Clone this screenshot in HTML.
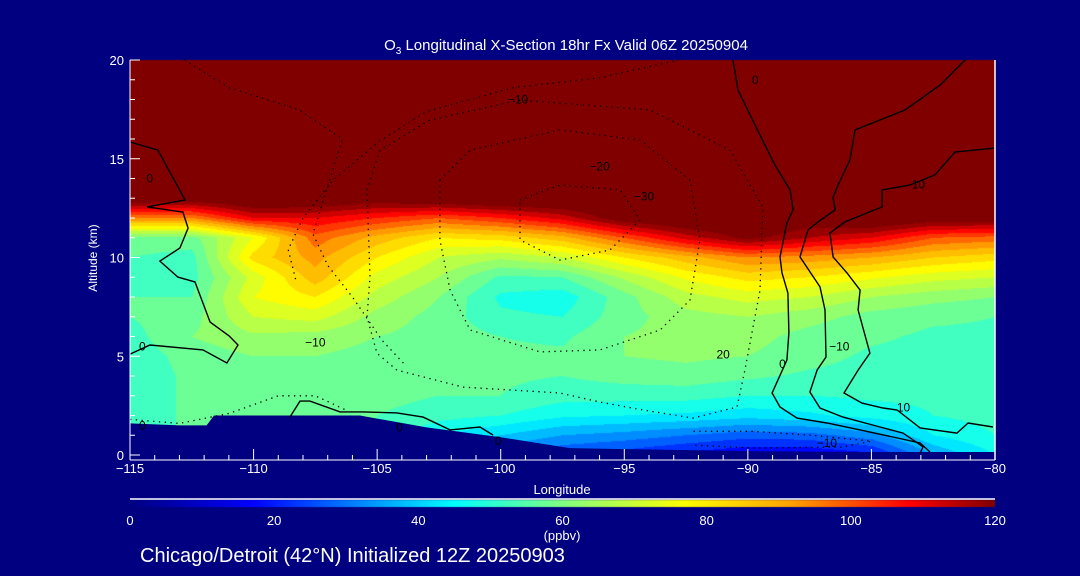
<!DOCTYPE html>
<html><head><meta charset="utf-8"><style>
html,body{margin:0;padding:0;background:#000080;}
#wrap{position:relative;width:1080px;height:576px;overflow:hidden;background:#000080;font-family:"Liberation Sans",sans-serif;color:#fff;}
canvas,svg{position:absolute;left:0;top:0;}
</style></head><body>
<div id="wrap">
<canvas id="cv" width="1080" height="576"></canvas>
<svg id="sv" width="1080" height="576"></svg>
</div>
<script>
// ---- data ----
const lonNodes=[-115,-112.5,-110,-107.5,-105,-102.5,-100,-97.5,-95,-92.5,-90,-87.5,-85,-82.5,-80];
const altNodes=[20,19,18,17,16,15,14,13,12,11,10,9,8,7,6,5,4,3,2,1,0];
const ozone=[
[130,130,130,130,130,130,130,130,130,130,130,130,130,130,130],
[130,130,130,130,130,130,130,130,130,130,130,130,130,130,130],
[130,130,130,130,130,130,130,130,130,130,130,130,130,130,130],
[130,130,130,130,130,130,130,130,130,130,130,130,130,130,130],
[130,130,130,130,130,130,130,130,130,130,130,130,130,130,130],
[130,130,130,130,130,130,130,130,130,130,130,130,130,130,130],
[130,130,130,130,130,130,130,130,130,130,130,130,130,130,130],
[128,125,130,128,125,128,130,130,130,130,130,130,130,130,130],
[95,95,110,110,105,100,105,112,125,130,130,125,130,125,125],
[58,58,75,98,88,80,82,88,100,112,122,115,110,100,98],
[55,53,82,92,80,70,66,70,80,88,95,93,90,85,82],
[55,53,72,88,73,65,54,55,66,76,82,80,76,72,70],
[55,55,75,80,68,60,49,47,58,68,72,70,65,62,60],
[55,58,70,72,63,58,51,50,58,63,65,62,58,56,55],
[53,60,64,63,60,58,55,54,60,62,62,58,56,54,54],
[52,57,60,60,58,57,56,56,60,61,60,57,54,53,54],
[52,56,58,58,57,56,56,55,57,58,56,54,53,53,53],
[52,56,57,57,57,55,55,52,52,52,50,50,51,51,52],
[52,56,56,56,55,52,50,46,45,44,42,44,47,50,52],
[52,56,56,56,55,45,40,35,33,30,27,28,33,45,50],
[52,56,56,56,55,40,30,25,22,18,15,15,18,35,45]];
const terrainLon=[-115,-113,-111.9,-111.6,-106.6,-105.7,-103,-100,-97.2,-95,-90,-85,-80];
const terrainAlt=[1.6,1.5,1.5,2.0,2.0,2.0,1.4,0.9,0.35,0.3,0.2,0.15,0.15];
const xTicks=[-115,-110,-105,-100,-95,-90,-85,-80];
const yTicks=[0,5,10,15,20];
const cbTicks=[0,20,40,60,80,100,120];
const solidLines=[
[[-115,15.85],[-113.87,15.44],[-112.77,12.91],[-114.31,12.56],[-112.86,12.3],[-112.65,11.49],[-112.98,10.48],[-113.79,9.82],[-113.06,9.01],[-112.37,8.76],[-111.76,6.73],[-110.99,6.03],[-110.63,5.57],[-111.08,4.66],[-112.05,5.32],[-114.19,5.57],[-115,5.11]],
[[-90.6,20],[-90.4,18.48],[-89.71,16.71],[-88.9,14.68],[-88.29,13.42],[-88.17,12.41],[-88.42,11.75],[-88.7,10.03],[-88.62,9.22],[-88.38,8.2],[-88.34,6.18],[-88.42,4.81],[-89.02,3.14],[-88.7,2.43],[-88.01,1.87],[-86.8,1.62],[-85.46,1.27],[-84.13,0.91],[-83.03,0.61],[-82.63,0.15]],
[[-81.21,20],[-82.22,18.73],[-83.64,17.47],[-85.66,16.46],[-85.87,14.94],[-86.35,13.67],[-86.55,13.06],[-86.47,12.41],[-87.16,11.8],[-87.57,11.39],[-87.89,10.03],[-87.08,8.51],[-86.88,7.34],[-86.84,4.96],[-87.2,4.3],[-87.49,3.19],[-87.08,2.38],[-86.15,1.92],[-84.65,1.42],[-83.72,1.11],[-82.91,0.41],[-83.03,0.1]],
[[-80,15.54],[-81.62,15.34],[-82.43,14.18],[-83.44,13.67],[-84.57,13.42],[-84.57,12.56],[-86.07,11.8],[-86.68,11.24],[-86.55,10.03],[-85.99,9.22],[-85.46,8.35],[-85.54,7.34],[-85.06,5.16],[-85.54,4.3],[-86.11,3.14],[-85.38,2.63],[-84.53,2.38],[-83.96,2.28],[-83.03,1.37],[-81.54,1.11],[-81.09,1.62],[-80.08,1.42]],
[[-108.53,1.92],[-108.12,2.73],[-107.72,2.73],[-106.5,2.18],[-105.57,2.18],[-104.2,2.13],[-103.14,1.92],[-102.05,1.27],[-100.84,1.42],[-100.31,1.01]]];
const dottedLines=[
[[-105.41,13.42],[-104.88,15.44],[-102.86,16.96],[-99.22,17.97],[-93.96,17.47],[-90.72,15.44],[-89.39,12.56],[-89.51,8.35],[-90.12,4.3],[-90.44,2.43],[-92.22,1.87],[-94.24,2.28],[-95.98,2.68],[-97.6,3.14],[-101.53,3.44],[-104.2,4.3],[-105.01,5.16],[-105.41,6.99],[-105.29,9.01],[-105.41,13.42]],
[[-102.46,13.92],[-101.24,15.44],[-97.6,16.46],[-94.36,15.95],[-92.34,13.92],[-91.94,10.89],[-92.34,7.85],[-93.55,6.33],[-95.98,5.32],[-98.41,5.22],[-101.24,6.33],[-102.05,8.35],[-102.46,10.89],[-102.46,13.92]],
[[-99.22,12.91],[-97.6,13.67],[-95.17,13.42],[-94.36,11.9],[-95.58,10.38],[-97.6,9.87],[-99.22,10.89],[-99.22,12.91]],
[[-108.3,8.9],[-108.6,10.4],[-108.0,12.0],[-106.8,13.9],[-104.9,15.9],[-103.0,17.4],[-99.5,18.6],[-96.0,19.1],[-92.8,20]],
[[-112.8,20],[-111.0,18.6],[-108.2,17.5],[-106.4,16.0],[-106.9,14.0],[-107.6,11.2],[-107.0,9.6],[-106.0,8.0],[-104.8,5.8],[-103.9,4.6]],
[[-92.2,1.2],[-89.8,1.2],[-87.4,1.0],[-85.0,0.7],[-86.2,0.4],[-89.8,0.35],[-92.2,0.5]],
[[-115,1.8],[-113,1.6],[-111,2.1],[-109,3.0],[-107.5,3.0],[-106.3,2.3]]];
const contourLabels=[["0",-114.2,14.0],["0",-114.5,5.5],["0",-114.5,1.5],["−10",-99.3,18.0],["−20",-96.0,14.6],["−30",-94.2,13.1],["0",-89.7,19.0],["−10",-107.5,5.7],["20",-91.0,5.1],["−10",-86.3,5.5],["0",-88.6,4.6],["10",-83.7,2.4],["10",-83.1,13.7],["−10",-86.8,0.6],["0",-104.1,1.4],["0",-100.1,0.7]];
// ---- axes ----
const X0=130,X1=995,Y0=455,Y1=60;
const xs=lon=>X0+(lon+115)/35*(X1-X0);
const ys=alt=>Y0-alt/20*(Y0-Y1);
const stops=[[0,[0,0,128]],[17,[0,0,255]],[45,[0,255,255]],[60,[128,255,128]],[77,[255,255,0]],[92,[255,160,0]],[108,[255,0,0]],[120,[128,0,0]]];
function cmap(v){v=Math.max(0,Math.min(120,v));for(let i=1;i<stops.length;i++){if(v<=stops[i][0]){const a=stops[i-1],b=stops[i],t=(v-a[0])/(b[0]-a[0]);return a[1].map((c,k)=>Math.round(c+(b[1][k]-c)*t));}}return stops[stops.length-1][1];}
// field
const cv=document.getElementById('cv');const ctx=cv.getContext('2d');
const W=X1-X0,H=Y0-Y1;const img=ctx.createImageData(W,H);
for(let py=0;py<H;py++){const alt=(Y0-(Y1+py+0.5))/(Y0-Y1)*20;let r=(20-alt);let r0=Math.max(0,Math.min(19,Math.floor(r)));let tr=Math.max(0,Math.min(1,r-r0));
 for(let px=0;px<W;px++){const lon=-115+(px+0.5)/W*35;let c=(lon+115)/2.5;let c0=Math.max(0,Math.min(13,Math.floor(c)));let tc=Math.max(0,Math.min(1,c-c0));
  const v=ozone[r0][c0]*(1-tr)*(1-tc)+ozone[r0][c0+1]*(1-tr)*tc+ozone[r0+1][c0]*tr*(1-tc)+ozone[r0+1][c0+1]*tr*tc;
  const q=Math.min(120,Math.floor(v/5)*5+2.5);const col=cmap(v>=120?120:q);const i=(py*W+px)*4;img.data[i]=col[0];img.data[i+1]=col[1];img.data[i+2]=col[2];img.data[i+3]=255;}}
ctx.putImageData(img,X0,Y1);
// colorbar
const g=ctx.createLinearGradient(X0,0,X1,0);stops.forEach(s=>{const c=s[1];g.addColorStop(s[0]/120,`rgb(${c[0]},${c[1]},${c[2]})`);});
ctx.fillStyle=g;ctx.fillRect(X0,500,X1-X0,7);
// svg
const NS='http://www.w3.org/2000/svg';const sv=document.getElementById('sv');
function mk(tag,attrs,parent){const e=document.createElementNS(NS,tag);for(const k in attrs)e.setAttribute(k,attrs[k]);(parent||sv).appendChild(e);return e;}
// terrain
let tp=`M${xs(-115)},461 `;terrainLon.forEach((l,i)=>{tp+=`L${xs(l).toFixed(1)},${ys(terrainAlt[i]).toFixed(1)} `;});tp+=`L${xs(-80)},461 Z`;
const terr=mk('path',{d:tp,fill:'#000080'});


function pts(arr){return arr.map(p=>xs(p[0]).toFixed(1)+','+ys(p[1]).toFixed(1)).join(' ');}
solidLines.forEach((ln,i)=>{const e=mk('polyline',{points:pts(ln),fill:'none',stroke:'#000','stroke-width':1.4});

});
dottedLines.forEach((ln,i)=>{const e=mk('polyline',{points:pts(ln),fill:'none',stroke:'#000','stroke-width':1.3,'stroke-dasharray':'1.3 4.5'});

});
contourLabels.forEach(l=>{const t=mk('text',{x:xs(l[1]),y:ys(l[2])+4,'font-size':12,fill:'#000','text-anchor':'middle'});t.textContent=l[0];

});
// axes
mk('line',{x1:X0,y1:Y1,x2:X0,y2:460,stroke:'#fff','stroke-width':1});
mk('line',{x1:X1,y1:Y1,x2:X1,y2:460,stroke:'#fff','stroke-width':1.5});
mk('line',{x1:X0,y1:460,x2:X1,y2:460,stroke:'#fff','stroke-width':1});
for(let l=-115;l<=-80;l++){const maj=xTicks.includes(l);mk('line',{x1:xs(l),y1:460,x2:xs(l),y2:maj?449:455,stroke:'#fff','stroke-width':1});}
xTicks.forEach(l=>{const t=mk('text',{x:xs(l),y:473,'font-size':13,fill:'#fff','text-anchor':'middle'});t.textContent=(l<0?'−':'')+Math.abs(l);

});
for(let a=0;a<=20;a++){const maj=yTicks.includes(a);mk('line',{x1:X0,y1:ys(a),x2:X0+(maj?10:5),y2:ys(a),stroke:'#fff','stroke-width':1});}
yTicks.forEach(a=>{const t=mk('text',{x:124,y:ys(a)+5,'font-size':13,fill:'#fff','text-anchor':'end'});t.textContent=a;

});
mk('line',{x1:X0,y1:499,x2:X1,y2:499,stroke:'#fff','stroke-width':1.5});
cbTicks.forEach(v=>{const t=mk('text',{x:X0+v/120*(X1-X0),y:525,'font-size':13,fill:'#fff','text-anchor':'middle'});t.textContent=v;

});
</script>
<svg width="1080" height="576" style="position:absolute;left:0;top:0">
<text x="566" y="50" font-size="15" fill="#fff" text-anchor="middle" font-family="Liberation Sans, sans-serif">O<tspan font-size="10" dy="4">3</tspan><tspan dy="-4"> Longitudinal X-Section 18hr  Fx Valid 06Z 20250904</tspan></text>
<text x="97" y="258" font-size="12" fill="#fff" text-anchor="middle" transform="rotate(-90 97 258)" font-family="Liberation Sans, sans-serif">Altitude (km)</text>
<text x="562" y="494" font-size="13" fill="#fff" text-anchor="middle" font-family="Liberation Sans, sans-serif">Longitude</text>
<text x="562" y="540" font-size="13" fill="#fff" text-anchor="middle" font-family="Liberation Sans, sans-serif">(ppbv)</text>
<text x="140" y="562" font-size="20" fill="#fff" font-family="Liberation Sans, sans-serif">Chicago/Detroit (42°N) Initialized 12Z 20250903</text>
</svg>
</body></html>
